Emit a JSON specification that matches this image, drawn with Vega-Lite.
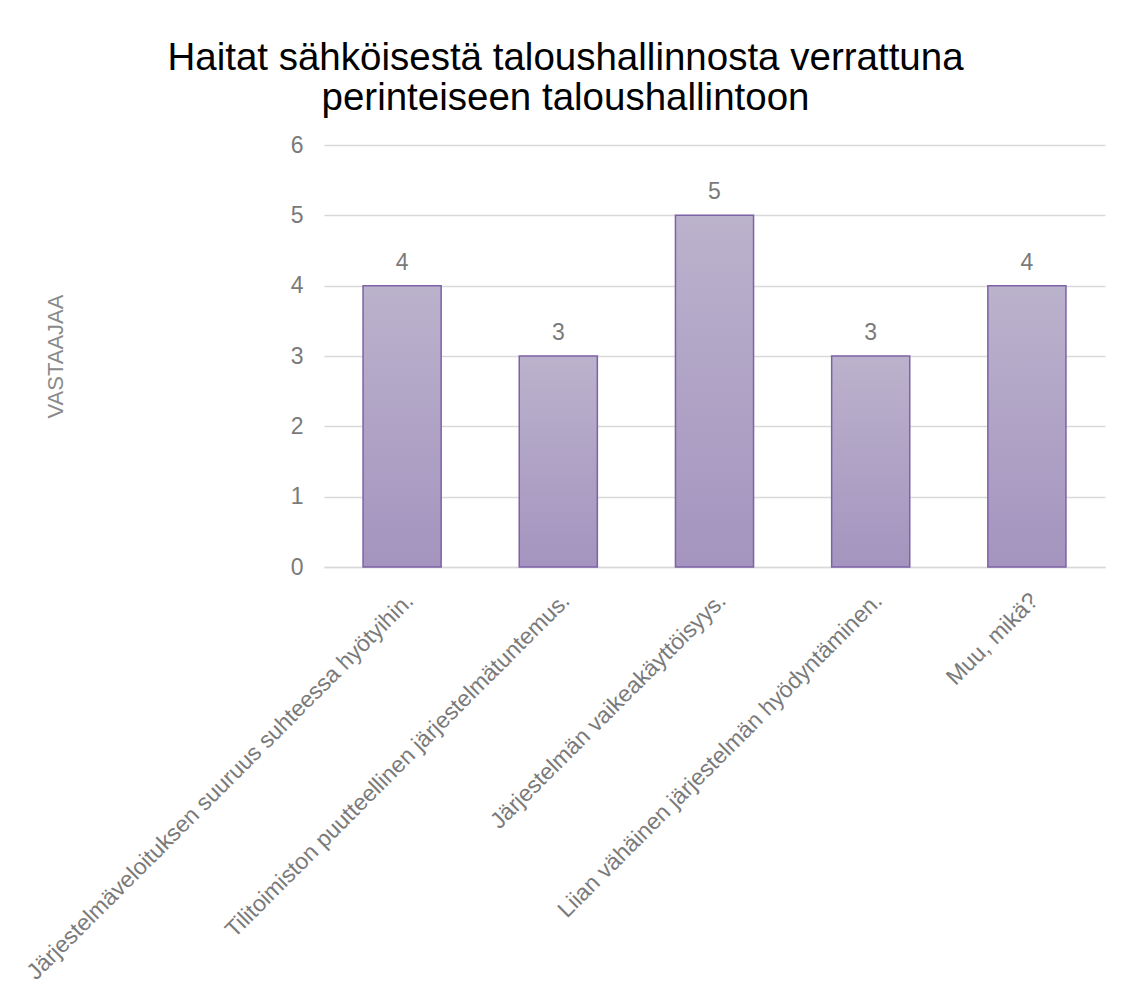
{
  "$schema": "https://vega.github.io/schema/vega-lite/v6.json",
  "autosize": {"type": "none"},
  "width": 781,
  "height": 422,
  "padding": {"left": 324, "top": 145, "right": 17, "bottom": 440},
  "background": "#ffffff",
  "config": {"view": {"stroke": null}},
  "title": {
    "text": ["Haitat sähköisestä taloushallinnosta verrattuna", "perinteiseen taloushallintoon"],
    "font": "Liberation Sans",
    "fontSize": 38.5,
    "fontWeight": "normal",
    "color": "#000000",
    "lineHeight": 40,
    "anchor": "middle",
    "dx": -149,
    "offset": 16
  },
  "data": {
    "values": [
      {"syy": "Järjestelmäveloituksen suuruus suhteessa hyötyihin.", "vastaajaa": 4},
      {"syy": "Tilitoimiston puutteellinen järjestelmätuntemus.", "vastaajaa": 3},
      {"syy": "Järjestelmän vaikeakäyttöisyys.", "vastaajaa": 5},
      {"syy": "Liian vähäinen järjestelmän hyödyntäminen.", "vastaajaa": 3},
      {"syy": "Muu, mikä?", "vastaajaa": 4}
    ]
  },
  "encoding": {
    "x": {
      "field": "syy",
      "type": "nominal",
      "sort": null,
      "scale": {"paddingInner": 0.5, "paddingOuter": 0.25},
      "axis": {
        "title": null,
        "labelAngle": -45,
        "labelFont": "Liberation Sans",
        "labelFontSize": 23,
        "labelColor": "#7a7a7a",
        "labelLimit": 0,
        "labelPadding": 22,
        "ticks": false,
        "domainColor": "#d9d9d9",
        "domainWidth": 1.5
      }
    },
    "y": {
      "field": "vastaajaa",
      "type": "quantitative",
      "scale": {"domain": [0, 6], "nice": false},
      "axis": {
        "title": "VASTAAJAA",
        "values": [0, 1, 2, 3, 4, 5, 6],
        "grid": true,
        "gridColor": "#d9d9d9",
        "gridWidth": 1.5,
        "domain": false,
        "ticks": false,
        "labelPadding": 21,
        "labelFont": "Liberation Sans",
        "labelFontSize": 23,
        "labelColor": "#7a7a7a",
        "titleFont": "Liberation Sans",
        "titleFontSize": 22,
        "titleFontWeight": "normal",
        "titleColor": "#8a8a8a",
        "titlePadding": 223
      }
    }
  },
  "layer": [
    {
      "mark": {
        "type": "bar",
        "stroke": "#7d62a7",
        "strokeWidth": 1.5,
        "color": {
          "gradient": "linear",
          "x1": 0, "y1": 0, "x2": 0, "y2": 1,
          "stops": [
            {"offset": 0, "color": "#bbb2cc"},
            {"offset": 1, "color": "#a494bf"}
          ]
        }
      }
    },
    {
      "mark": {
        "type": "text",
        "baseline": "alphabetic",
        "dy": -16,
        "font": "Liberation Sans",
        "fontSize": 23,
        "color": "#7a7a7a"
      },
      "encoding": {"text": {"field": "vastaajaa", "type": "quantitative"}}
    }
  ]
}
